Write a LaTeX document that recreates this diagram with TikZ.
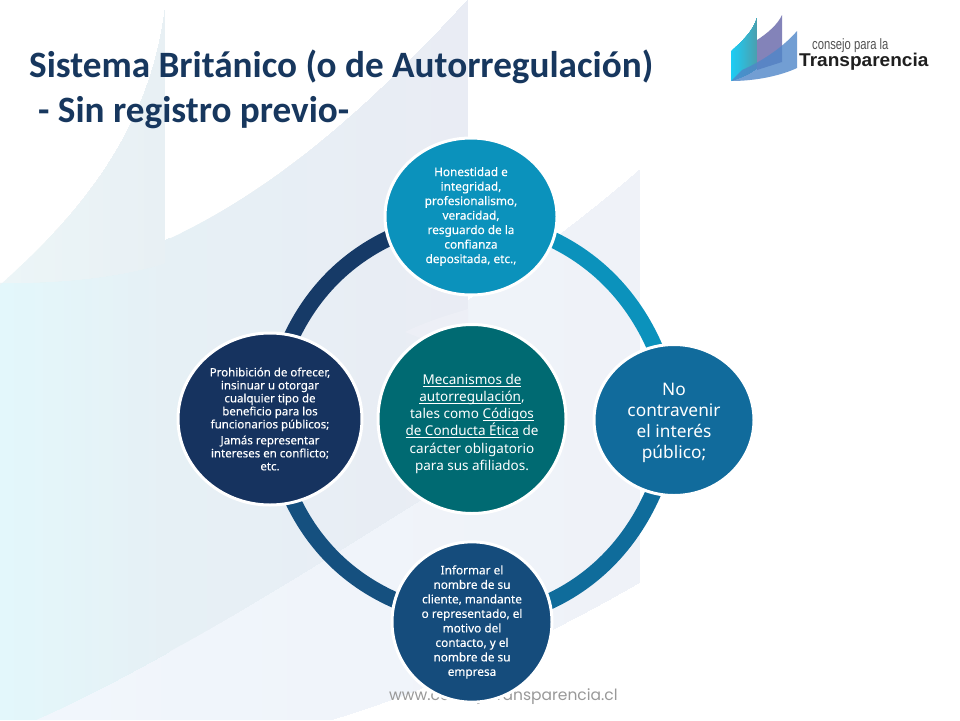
\documentclass[tikz,border=0pt]{standalone}
\usepackage{fontspec}
\usetikzlibrary{shapes.geometric}
\setmainfont{Noto Sans}
\newfontfamily\discfont[FakeBold=0.2]{Noto Sans}
\newfontfamily\titlefont{Carlito}
\newfontfamily\logofont{Liberation Sans}
\newfontfamily\wwwfont{Poppins}
\newsavebox\ulnbox
\newcommand\uln[1]{\sbox\ulnbox{#1}\rlap{\rule[-2.2pt]{\wd\ulnbox}{0.7pt}}\usebox\ulnbox}
\newcommand\gradfill[5]{\begin{scope}\clip #1;
  \foreach \i in {0,...,23}{
    \pgfmathsetmacro\xx{#2+(#3-#2)*\i/24}
    \pgfmathsetmacro\pp{100*\i/23}
    \fill[#5!\pp!#4] (\xx,0) rectangle (#3,720);}
  \end{scope}}
\definecolor{titleblue}{HTML}{17375E}
\definecolor{ctop}{HTML}{0B92BC}
\definecolor{cright}{HTML}{116B9C}
\definecolor{cbottom}{HTML}{154C7C}
\definecolor{cleft}{HTML}{16335F}
\definecolor{ccenter}{HTML}{006A72}
\definecolor{aright}{HTML}{0F6C9B}
\definecolor{abottom}{HTML}{15507F}
\definecolor{aleft}{HTML}{163A67}
\definecolor{sailA}{HTML}{F1F6FC}
\definecolor{sailB}{HTML}{EFF2F8}
\definecolor{sailC}{HTML}{E3F7FB}
\definecolor{sailM}{HTML}{E6F0F5}
\definecolor{sailD}{HTML}{E9ECF4}
\definecolor{sailE}{HTML}{ECF5F7}
\definecolor{sailF}{HTML}{E8F0F4}
\definecolor{wedge}{HTML}{EDEFF6}
\definecolor{logoA}{HTML}{1CCDF5}
\definecolor{logoB}{HTML}{4AA0B0}
\definecolor{logoC}{HTML}{6E6EAD}
\definecolor{logoD}{HTML}{4F86C8}
\pgfdeclarelayer{backart}
\pgfdeclarelayer{ring}
\pgfsetlayers{backart,ring,main}
\tikzset{
  disc/.style={ellipse,draw=white,line width=3pt,inner sep=0pt,text=white,align=center},
  smalltext/.style={font=\discfont\fontsize{11.8}{14.5}\selectfont},
  lefttext/.style={font=\discfont\fontsize{11.5}{13}\selectfont},
  arcband/.style={line width=16pt,line cap=butt,shorten <=-5pt,shorten >=-5pt,looseness=0.87}
}
\begin{document}
\begin{tikzpicture}[x=1pt,y=-1pt]
\useasboundingbox (0,0) rectangle (960,720);
\begin{pgfonlayer}{backart}
  \fill[white] (0,0) rectangle (960,720);
  % third sail
  \gradfill{(640,170) .. controls (560,240) and (470,300) .. (380,360) -- (35,720) -- (330,720)
     .. controls (430,690) and (540,640) .. (640,582) -- cycle}{35}{640}{sailA}{sailB}
  % second sail
  \gradfill{(0,283) .. controls (190,270) and (340,140) .. (468,0) -- (468,470)
     .. controls (340,550) and (170,660) .. (35,720) -- (0,720) -- cycle}{0}{170}{sailC}{sailM}
  \begin{scope}
    \clip (0,283) .. controls (190,270) and (340,140) .. (468,0) -- (468,470)
     .. controls (340,550) and (170,660) .. (35,720) -- (0,720) -- cycle;
    \foreach \i in {0,...,23}{
      \pgfmathsetmacro\xx{170+298*\i/24}
      \pgfmathsetmacro\pp{100*\i/23}
      \fill[sailD!\pp!sailM] (\xx,0) rectangle (468,720);}
  \end{scope}
  % lighter wedge of the third sail seen through the second
  \fill[wedge] (468,309) .. controls (445,316) and (425,322) .. (405,332) -- (430,342) -- (468,345) -- cycle;
  % first sail
  \gradfill{(0,285) .. controls (80,215) and (150,130) .. (165,10) -- (165,263)
     .. controls (110,280) and (50,283) .. (0,283) -- cycle}{0}{165}{sailE}{sailF}
  \node[anchor=base west,inner sep=0pt,text=black!40,font=\wwwfont\fontsize{15.5}{18}\selectfont] (web) at (389,700) {www.consejotransparencia.cl};
  % logo
  \gradfill{(731,51) .. controls (742,42) and (754,30) .. (757,18) -- (757,68) .. controls (750,74) and (740,78) .. (731,81) -- cycle}{731}{757}{logoA}{logoB}
  \fill[fill=logoC,opacity=.85]
     (757,40) .. controls (768,33) and (778,24) .. (782,15) -- (782,62) -- (757,70) -- cycle;
  \fill[fill=logoD,opacity=.8]
     (742,70) .. controls (765,60) and (785,45) .. (797,31) -- (797,68)
     .. controls (780,76) and (755,81) .. (731,81) -- cycle;
  \node[anchor=base west,inner sep=0pt,text=black!68,font=\logofont\fontsize{15}{16}\selectfont] (logoa) at (812,49) {\scalebox{.75}[1]{consejo para la}};
  \node[anchor=base west,inner sep=0pt,text=black!88,font=\logofont\bfseries\fontsize{18.5}{20}\selectfont] (logob) at (799,66) {\scalebox{1.03}[1]{Transparencia}};
\end{pgfonlayer}
\node[anchor=north west,inner sep=0pt,align=left,text=titleblue,font=\titlefont\bfseries\fontsize{37.2}{45}\selectfont] (title) at (29,50)
  {Sistema Británico (o de Autorregulación)\\\hspace*{9pt}- Sin registro previo-};
\node[disc,fill=ctop,minimum width=172pt,minimum height=157pt,smalltext] (top) at (471,216.5)
  {\rule{0pt}{4pt}Honestidad e\\integridad,\\profesionalismo,\\veracidad,\\resguardo de la\\confianza\\depositada, etc.,};
\node[disc,fill=cright,minimum width=160pt,minimum height=151pt,font=\fontsize{17.3}{21}\selectfont] (right) at (674,420)
  {\rule{0pt}{18pt}No\\contravenir\\el interés\\público;};
\node[disc,fill=cbottom,minimum width=160pt,minimum height=150pt,smalltext] (bottom) at (472,622)
  {Informar el\\nombre de su\\cliente, mandante\\o representado, el\\motivo del\\contacto, y el\\nombre de su\\empresa};
\node[disc,fill=cleft,minimum width=184pt,minimum height=172pt,lefttext] (left) at (270,419)
  {Prohibición de ofrecer,\\insinuar u otorgar\\cualquier tipo de\\beneficio para los\\funcionarios públicos;\\[3pt]Jamás representar\\intereses en conflicto;\\etc.};
\node[disc,fill=ccenter,minimum width=188pt,minimum height=189pt,font=\fontsize{13.5}{17.1}\selectfont] (center) at (472,419)
  {\rule{0pt}{20pt}\uln{Mecanismos de}\\\uln{autorregulación},\\tales como \uln{Códigos}\\\uln{de Conducta Ética} de\\carácter obligatorio\\para sus afiliados.};
\begin{pgfonlayer}{ring}
  \draw[arcband,draw=ctop] (top.-16.3) to[out=-25,in=113] (right.105.3);
  \draw[arcband,draw=aright] (right.254) to[out=-113,in=24] (bottom.15.2);
  \draw[arcband,draw=abottom] (bottom.164.4) to[out=157,in=-65] (left.-74.7);
  \draw[arcband,draw=aleft] (left.75.3) to[out=65,in=205] (top.195.8);
\end{pgfonlayer}
\end{tikzpicture}
\end{document}
